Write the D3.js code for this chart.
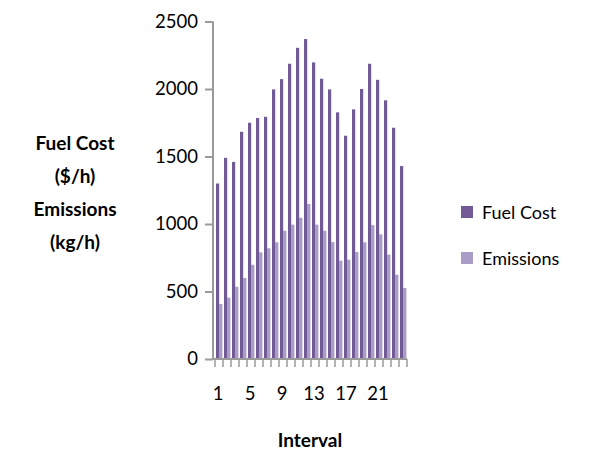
<!DOCTYPE html>
<html>
<head>
<meta charset="utf-8">
<script src="https://cdn.jsdelivr.net/npm/d3@7"></script>
<style>
  html, body { margin: 0; padding: 0; background: #fff; }
  svg { display: block; font-family: Lato, "Open Sans", "Liberation Sans", sans-serif; }
</style>
</head>
<body>
<svg id="chart" width="601" height="450"></svg>
<script>
// Hourly dispatch results: one entry per interval
const intervals = d3.range(1, 25);
const fuelCost  = [1300, 1490, 1460, 1683, 1750, 1785, 1794, 1997, 2073, 2187, 2305, 2370,
                   2197, 2076, 1997, 1827, 1654, 1849, 2000, 2187, 2068, 1916, 1713, 1429];
const emissions = [407, 454, 535, 600, 698, 790, 820, 864, 950, 995, 1046, 1148,
                   995, 950, 866, 728, 735, 792, 864, 992, 923, 773, 624, 526];
const yTicks = [0, 500, 1000, 1500, 2000, 2500];
const xTickLabels = [1, 5, 9, 13, 17, 21];
const seriesNames = ["Fuel Cost", "Emissions"];
const seriesColors = ["#725a96", "#a99cc6"];

const svg = d3.select("#chart");
const axisColor = "#9a9a9a";

const x = d3.scaleBand().domain(intervals).range([215, 407]).paddingInner(0).paddingOuter(0);
const y = d3.scaleLinear().domain([0, 2500]).range([359, 21.5]);

// bars: Fuel Cost then Emissions, side by side inside each interval
const g = svg.append("g");
const barW = 3.2;
g.selectAll("rect.em")
  .data(intervals)
  .join("rect")
  .attr("class", "em")
  .attr("x", d => x(d) + 1 + barW)
  .attr("width", barW)
  .attr("y", (d, i) => y(emissions[i]))
  .attr("height", (d, i) => y(0) - y(emissions[i]))
  .attr("fill", seriesColors[1]);
g.selectAll("rect.fc")
  .data(intervals)
  .join("rect")
  .attr("class", "fc")
  .attr("x", d => x(d) + 1)
  .attr("width", barW)
  .attr("y", (d, i) => y(fuelCost[i]))
  .attr("height", (d, i) => y(0) - y(fuelCost[i]))
  .attr("fill", seriesColors[0]);

// y axis
const yAxis = svg.append("g").attr("transform", "translate(213,0)")
  .call(d3.axisLeft(y).tickValues(yTicks).tickSize(8).tickPadding(7).tickFormat(d3.format("d")));
yAxis.select(".domain").attr("d", `M0,${y(2500)}V${y(0)}`).attr("stroke", axisColor).attr("stroke-width", 2);
yAxis.selectAll(".tick line").attr("stroke", axisColor).attr("stroke-width", 2);
yAxis.selectAll(".tick text").attr("font-size", 18.5).attr("fill", "#000")
  .attr("font-family", "Lato, 'Open Sans', sans-serif");

// x axis: ticks at interval boundaries, labels every 4th interval
const xg = svg.append("g");
xg.append("line").attr("x1", 212).attr("x2", 407).attr("y1", y(0)).attr("y2", y(0))
  .attr("stroke", axisColor).attr("stroke-width", 2);
const bounds = intervals.map(d => x(d)).concat([x(24) + x.bandwidth()]);
xg.selectAll("line.tk").data(bounds).join("line").attr("class", "tk")
  .attr("x1", d => d).attr("x2", d => d)
  .attr("y1", y(0)).attr("y2", y(0) + 8)
  .attr("stroke", axisColor).attr("stroke-width", 1.5);
xg.selectAll("text").data(xTickLabels).join("text")
  .attr("x", d => x(d) + x.bandwidth() / 2 - 1)
  .attr("y", 400)
  .attr("text-anchor", "middle")
  .attr("font-size", 18.5)
  .text(d => d);

// axis titles
const yTitle = ["Fuel Cost", "($/h)", "Emissions", "(kg/h)"];
svg.append("g").selectAll("text").data(yTitle).join("text")
  .attr("x", 75)
  .attr("y", (d, i) => 150 + i * 33)
  .attr("text-anchor", "middle")
  .attr("font-size", 19)
  .attr("font-weight", "bold")
  .text(d => d);
svg.append("text")
  .attr("x", 310).attr("y", 447)
  .attr("text-anchor", "middle")
  .attr("font-size", 19)
  .attr("font-weight", "bold")
  .text("Interval");

// legend
const lg = svg.append("g");
seriesNames.forEach((name, i) => {
  const cy = 212 + i * 46;
  lg.append("rect").attr("x", 461).attr("y", cy - 6).attr("width", 12).attr("height", 12)
    .attr("fill", seriesColors[i]);
  lg.append("text").attr("x", 482).attr("y", cy + 6.5).attr("font-size", 18).text(name);
});
</script>
</body>
</html>
